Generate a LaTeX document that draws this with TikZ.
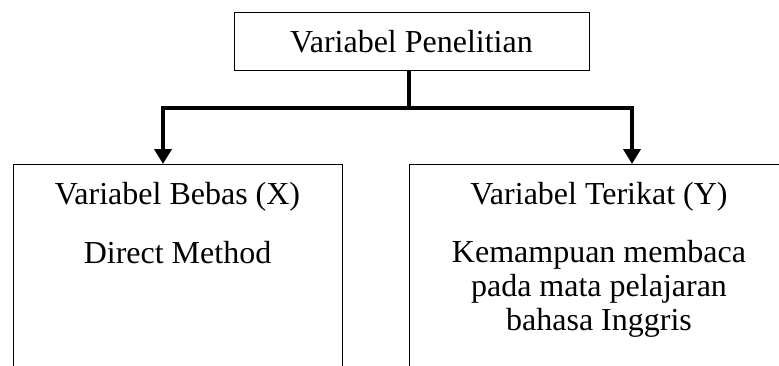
\documentclass[tikz,border=0pt]{standalone}
\usepackage{fontspec}
\setmainfont{Liberation Serif}
\usetikzlibrary{arrows.meta}
\begin{document}
\begin{tikzpicture}[x=1pt,y=-1pt,
  box/.style={draw,line width=1pt,inner sep=0pt},
  txt/.style={font=\fontsize{32}{34}\selectfont,anchor=base,inner sep=0pt},
  conn/.style={line width=4pt,line join=miter},
  arr/.style={conn,-{Triangle[width=17pt,length=15pt]}}]
\useasboundingbox (0,0) rectangle (779,365);
\clip (0,0) rectangle (779,365);
% top box
\node[box,minimum width=355pt,minimum height=58pt] (top) at (411.5,41) {};
\node[txt] (toptxt) at (411.5,52) {Variabel Penelitian};
% lower boxes (cut at bottom of picture)
\node[box,minimum width=329pt,minimum height=236pt,anchor=north] (lbox) at (177.5,164) {};
\node[box,minimum width=380pt,minimum height=236pt,anchor=north west] (rbox) at (409,164) {};
\node[txt] (ltitle) at (177.5,204) {Variabel Bebas (X)};
\node[txt] (ltext) at (177.5,263) {Direct Method};
\node[txt] (rtitle) at (599,204) {Variabel Terikat (Y)};
\node[txt] (rtext1) at (599,262) {Kemampuan membaca};
\node[txt] (rtext2) at (599,296) {pada mata pelajaran};
\node[txt] (rtext3) at (599,330) {bahasa Inggris};
% connectors
\coordinate (j) at (409,108);
\coordinate (al) at (163,164);
\coordinate (ar) at (632,164);
\draw[conn] (409,70.5) -- (j);
\draw[arr] (j) -| (al);
\draw[arr] (j) -| (ar);
\end{tikzpicture}
\end{document}
